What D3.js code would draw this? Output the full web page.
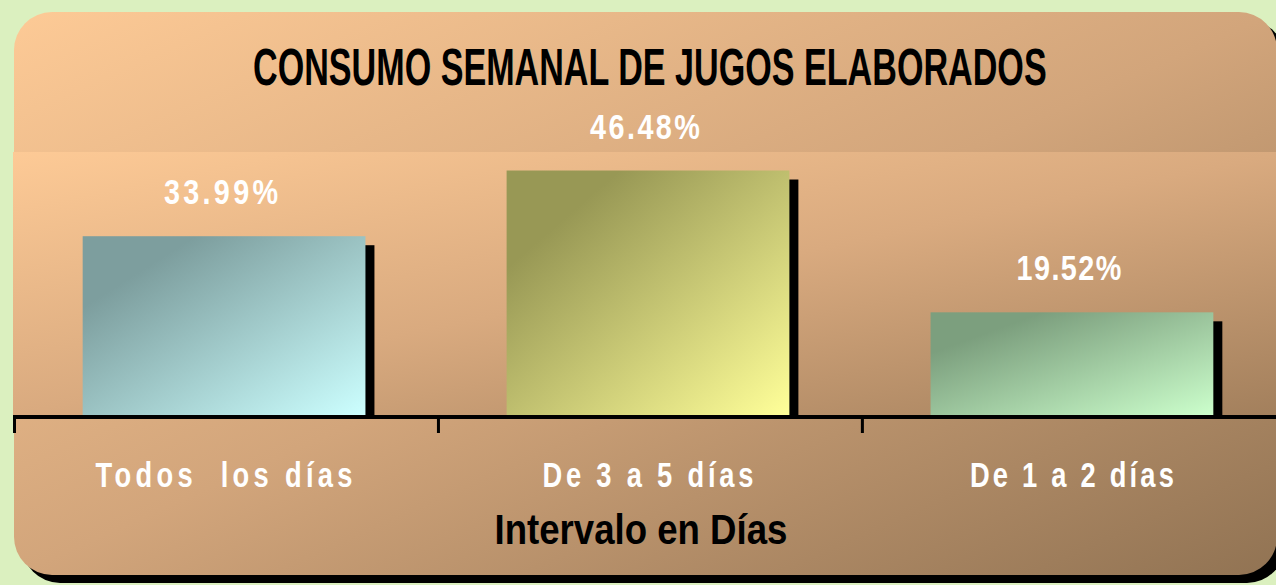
<!DOCTYPE html>
<html>
<head>
<meta charset="utf-8">
<script src="https://cdn.jsdelivr.net/npm/d3@7"></script>
<style>
  html, body { margin: 0; padding: 0; background: #dbf0bf; }
  svg { display: block; }
</style>
</head>
<body>
<svg id="chart" width="1276" height="585"></svg>
<script>
// ---- data ----
const categories = ["Todos  los días", "De 3 a 5 días", "De 1 a 2 días"];
const values = [33.99, 46.48, 19.52];
const valueLabels = ["33.99%", "46.48%", "19.52%"];
const titleText = "CONSUMO SEMANAL DE JUGOS ELABORADOS";
const axisTitle = "Intervalo en Días";
const barColorsDark = ["#7d9e9e", "#989855", "#7c9f7e"];
const barColorsLight = ["#ccffff", "#ffff99", "#ccffcc"];
const yDomain = [0, 50];

// ---- layout ----
const W = 1276, H = 585;
const panel = { x: 14, y: 12, w: 1263, h: 563, r: 38 };
const plot = { left: 13, right: 1290, top: 152, bottom: 415 };
const FONT = "'Liberation Sans', Arial, sans-serif";

const svg = d3.select("#chart");
const defs = svg.append("defs");

function diagGrad(id, stops) {
  const g = defs.append("linearGradient").attr("id", id)
    .attr("x1", 0).attr("y1", 0).attr("x2", 1).attr("y2", 1);
  stops.forEach(s => g.append("stop").attr("offset", s[0]).attr("stop-color", s[1]));
}
diagGrad("panelGrad", [[0, "#fdca96"], [0.5, "#d2a57b"], [1, "#917353"]]);
diagGrad("plotGrad", [[0, "#fdca96"], [0.5, "#d9aa7f"], [1, "#a27f5c"]]);
values.forEach((v, i) => diagGrad("bar" + i, [[0, barColorsDark[i]], [0.2, barColorsDark[i]], [1, barColorsLight[i]]]));

// panel shadow + panel
svg.append("rect").attr("x", panel.x + 8).attr("y", panel.y + 8)
  .attr("width", panel.w).attr("height", panel.h).attr("rx", panel.r).attr("ry", panel.r)
  .attr("fill", "#000");
svg.append("rect").attr("x", panel.x).attr("y", panel.y)
  .attr("width", panel.w).attr("height", panel.h).attr("rx", panel.r).attr("ry", panel.r)
  .attr("fill", "url(#panelGrad)");

// plot area
svg.append("rect").attr("x", plot.left).attr("y", plot.top)
  .attr("width", plot.right - plot.left).attr("height", plot.bottom - plot.top)
  .attr("fill", "url(#plotGrad)");

// scales
const x = d3.scaleBand().domain(categories).range([12, 1284])
  .paddingInner(0.333).paddingOuter(0.1667);
const y = d3.scaleLinear().domain(yDomain).range([plot.bottom, plot.top]);

const data = categories.map((c, i) => ({ c, v: values[i], lab: valueLabels[i], i }));

// bar shadows
svg.append("g").selectAll("rect").data(data).join("rect")
  .attr("x", d => x(d.c) + 9).attr("y", d => y(d.v) + 9)
  .attr("width", x.bandwidth()).attr("height", d => y(0) - y(d.v) - 9)
  .attr("fill", "#000");
// bars
svg.append("g").selectAll("rect").data(data).join("rect")
  .attr("x", d => x(d.c)).attr("y", d => y(d.v))
  .attr("width", x.bandwidth()).attr("height", d => y(0) - y(d.v))
  .attr("fill", d => "url(#bar" + d.i + ")");

// axis line + ticks
svg.append("rect").attr("x", plot.left).attr("y", y(0)).attr("width", W).attr("height", 4).attr("fill", "#000");
const tickXs = categories.map(c => x(c) - x.step() * x.paddingOuter() + 1);
svg.append("g").selectAll("rect").data(tickXs).join("rect")
  .attr("x", d => d).attr("y", y(0) + 2).attr("width", 3).attr("height", 16).attr("fill", "#000");

// helper: narrow glyphs (horizontal scale) with letter spacing to reach a target width
function fitText(parent, str, cx, baseline, size, target, sx, color, spaced) {
  const g = parent.append("g");
  const t = g.append("text")
    .attr("font-family", FONT).attr("font-weight", "bold").attr("font-size", size)
    .attr("fill", color).style("white-space", "pre").text(str);
  const natural = t.node().getComputedTextLength();
  let ls = 0, scale;
  if (spaced) {
    scale = sx;
    ls = (target / sx - natural) / Math.max(1, str.length - 1);
    t.attr("letter-spacing", ls);
  } else {
    scale = target / natural;
  }
  const w = natural + (spaced ? ls * (str.length - 1) : 0);
  t.attr("x", -w / 2).attr("y", 0);
  g.attr("transform", `translate(${cx},${baseline}) scale(${scale},1)`);
  return g;
}

// value labels
const valueWidths = [114, 110, 105];
data.forEach(d => {
  fitText(svg, d.lab, x(d.c) + x.bandwidth() / 2 - 3, y(d.v) - 32, 36, valueWidths[d.i], 0.8, "#ffffff", true);
});

// category labels
const catWidths = [257, 211, 204];
data.forEach(d => {
  fitText(svg, d.c, x(d.c) + x.bandwidth() / 2, 487, 35, catWidths[d.i], 0.78, "#ffffff", true);
});

// title
fitText(svg, titleText, 650, 85, 51, 794, 1, "#000", false);
// axis title
fitText(svg, axisTitle, 641, 544, 43, 293, 1, "#000", false);
</script>
</body>
</html>
